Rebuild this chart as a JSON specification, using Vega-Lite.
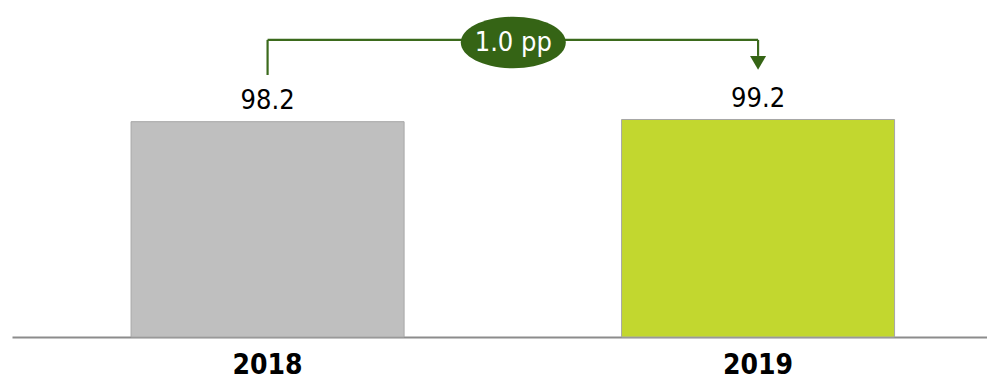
{
  "$schema": "https://vega.github.io/schema/vega-lite/v6.json",
  "width": 975,
  "height": 337,
  "autosize": "none",
  "padding": {"left": 12, "top": 0, "right": 0, "bottom": 45},
  "background": "white",
  "config": {"view": {"stroke": null}, "font": "DejaVu Sans Condensed, Liberation Sans, sans-serif"},
  "datasets": {
    "bars": [
      {"year": "2018", "value": 98.2, "label": "98.2"},
      {"year": "2019", "value": 99.2, "label": "99.2"}
    ],
    "bracket": [
      {"year": "2018", "y1": 119.5, "y2": 135.5},
      {"year": "2019", "y1": 128.2, "y2": 135.5}
    ],
    "span": [{"from": "2018", "to": "2019", "y": 135.5}],
    "arrow": [{"year": "2019", "y": 125.0}],
    "badge": [{"year": "2018", "y": 134.3, "text": "1.0 pp"}]
  },
  "layer": [
    {
      "data": {"name": "bars"},
      "mark": {"type": "bar", "stroke": "#a6a6a6", "strokeWidth": 1},
      "encoding": {
        "x": {
          "field": "year", "type": "nominal",
          "scale": {"paddingInner": 0.4434, "paddingOuter": 0.2156, "align": 0.563},
          "axis": {
            "title": null, "labelAngle": 0, "ticks": false,
            "domainColor": "#8c8c8c", "domainWidth": 2,
            "labelFont": "DejaVu Sans Condensed, Liberation Sans, sans-serif", "labelFontSize": 28, "labelFontWeight": "bold",
            "labelColor": "#000000", "labelPadding": 14
          }
        },
        "y": {
          "field": "value", "type": "quantitative",
          "scale": {"domain": [0, 153.7], "nice": false},
          "axis": null
        },
        "color": {
          "field": "year", "type": "nominal",
          "scale": {"domain": ["2018", "2019"], "range": ["#bfbfbf", "#c2d72f"]},
          "legend": null
        }
      }
    },
    {
      "data": {"name": "bars"},
      "mark": {"type": "text", "baseline": "alphabetic", "dy": -12.5, "fontSize": 27, "color": "#000000", "font": "DejaVu Sans Condensed, Liberation Sans, sans-serif"},
      "encoding": {
        "x": {"field": "year", "type": "nominal"},
        "y": {"field": "value", "type": "quantitative"},
        "text": {"field": "label"}
      }
    },
    {
      "data": {"name": "bracket"},
      "mark": {"type": "rule", "color": "#3b6a1c", "strokeWidth": 2.2},
      "encoding": {
        "x": {"field": "year", "type": "nominal"},
        "y": {"field": "y1", "type": "quantitative"},
        "y2": {"field": "y2"}
      }
    },
    {
      "data": {"name": "span"},
      "mark": {"type": "rule", "color": "#3b6a1c", "strokeWidth": 2.2},
      "encoding": {
        "x": {"field": "from", "type": "nominal"},
        "x2": {"field": "to"},
        "y": {"field": "y", "type": "quantitative"}
      }
    },
    {
      "data": {"name": "arrow"},
      "mark": {"type": "point", "shape": "triangle-down", "size": 256, "filled": true, "color": "#356415", "opacity": 1},
      "encoding": {
        "x": {"field": "year", "type": "nominal"},
        "y": {"field": "y", "type": "quantitative"}
      }
    },
    {
      "data": {"name": "badge"},
      "mark": {"type": "point", "shape": "M-1,0A1,0.49 0 1,0 1,0A1,0.49 0 1,0 -1,0Z", "size": 11025, "filled": true, "color": "#356415", "opacity": 1},
      "encoding": {
        "x": {"field": "year", "type": "nominal", "bandPosition": 1.4},
        "y": {"field": "y", "type": "quantitative"}
      }
    },
    {
      "data": {"name": "badge"},
      "mark": {"type": "text", "baseline": "middle", "align": "center", "fontSize": 27, "color": "#ffffff", "font": "DejaVu Sans Condensed, Liberation Sans, sans-serif"},
      "encoding": {
        "x": {"field": "year", "type": "nominal", "bandPosition": 1.4},
        "y": {"field": "y", "type": "quantitative"},
        "text": {"field": "text"}
      }
    }
  ]
}
